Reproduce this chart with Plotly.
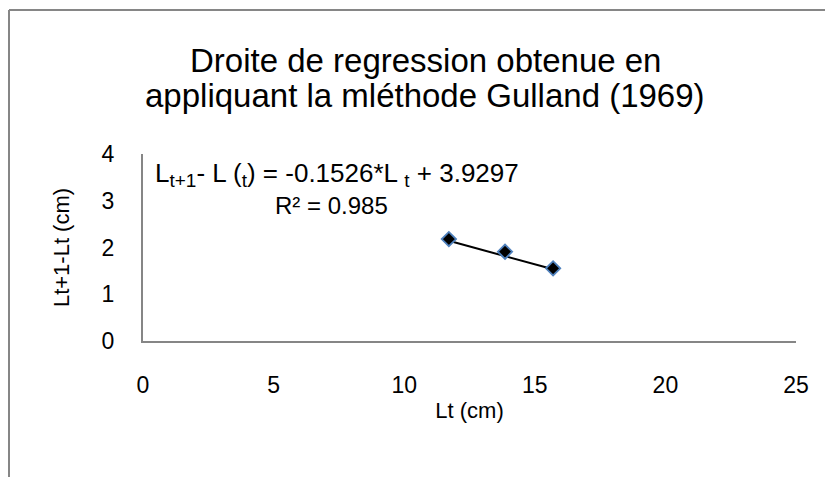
import plotly.graph_objects as go

# Data
lt_cm = [11.71, 13.86, 15.70]
delta_cm = [2.18, 1.91, 1.555]
slope = -0.1526
intercept = 3.9297
r2 = 0.985

title_lines = ["Droite de regression obtenue en", "appliquant la mléthode Gulland (1969)"]
x_title = "Lt (cm)"
y_title = "Lt+1-Lt (cm)"
x_ticks = [0, 5, 10, 15, 20, 25]
y_ticks = [0, 1, 2, 3, 4]

OFF = 8  # page body margin
PAGE_W, PAGE_H = 833, 477
W, H = PAGE_W - OFF, PAGE_H - OFF
# plot area in page pixels
PX0, PX1, PY0, PY1 = 143, 796, 154, 341
L, R, T, B = PX0 - OFF, PAGE_W - PX1, PY0 - OFF, PAGE_H - PY1
pw, ph = W - L - R, H - T - B

def px(xpage):
    return (xpage - OFF - L) / pw

def py(ypage):
    return (H - B - (ypage - OFF)) / ph

FONT = "Liberation Sans"

fig = go.Figure()

trend_x = [min(lt_cm), max(lt_cm)]
trend_y = [slope * v + intercept for v in trend_x]
fig.add_trace(go.Scatter(x=trend_x, y=trend_y, mode="lines",
                         line=dict(color="black", width=2), showlegend=False,
                         hoverinfo="skip"))
fig.add_trace(go.Scatter(x=lt_cm, y=delta_cm, mode="markers",
                         marker=dict(symbol="diamond", size=11, color="black",
                                     line=dict(color="#4F81BD", width=1.8)),
                         showlegend=False))

fig.update_layout(
    width=W, height=H,
    margin=dict(l=L, r=R, t=T, b=B),
    paper_bgcolor="white", plot_bgcolor="white",
    font=dict(family=FONT, color="black"),
    showlegend=False,
    xaxis=dict(range=[0, 25], tickvals=x_ticks, showgrid=False, zeroline=False,
               showline=True, linecolor="#868686", linewidth=2,
               ticks="", ticklabelstandoff=22,
               tickfont=dict(size=23, family=FONT),
               title=dict(text=x_title, font=dict(size=22, family=FONT), standoff=6)),
    yaxis=dict(range=[0, 4], tickvals=y_ticks, showgrid=False, zeroline=False,
               showline=True, linecolor="#868686", linewidth=2,
               ticks="", ticklabelstandoff=22,
               tickfont=dict(size=23, family=FONT),
               title=dict(text=y_title, font=dict(size=22, family=FONT), standoff=26)),
)

for line, yc in zip(title_lines, [60, 95]):
    fig.add_annotation(xref="paper", yref="paper", x=px(425), y=py(yc),
                       xanchor="center", yanchor="middle", showarrow=False,
                       text=line, font=dict(size=33, family=FONT, color="black"))

def sub(s):
    return '<sub><span style="font-size:19px">%s</span></sub>' % s

eq_line1 = "L%s- L (%s) = %.4f*L %s + %.4f" % (sub("t+1"), sub("t"), slope, sub("t"), intercept)
eq_line2 = "R² = %.3f" % r2
fig.add_annotation(xref="paper", yref="paper", x=px(153), y=py(174),
                   xanchor="left", yanchor="middle", showarrow=False,
                   text=eq_line1, font=dict(size=26, family=FONT, color="black"))
fig.add_annotation(xref="paper", yref="paper", x=px(331), y=py(205),
                   xanchor="center", yanchor="middle", showarrow=False,
                   text=eq_line2, font=dict(size=24, family=FONT, color="black"))

# Outer chart border (left and top visible)
fig.add_shape(type="line", xref="paper", yref="paper",
              x0=px(9), y0=py(10), x1=px(9), y1=py(PAGE_H + 5),
              line=dict(color="#868686", width=2))
fig.add_shape(type="line", xref="paper", yref="paper",
              x0=px(9), y0=py(10), x1=px(PAGE_W + 5), y1=py(10),
              line=dict(color="#868686", width=2))

fig.write_html("out.html")
